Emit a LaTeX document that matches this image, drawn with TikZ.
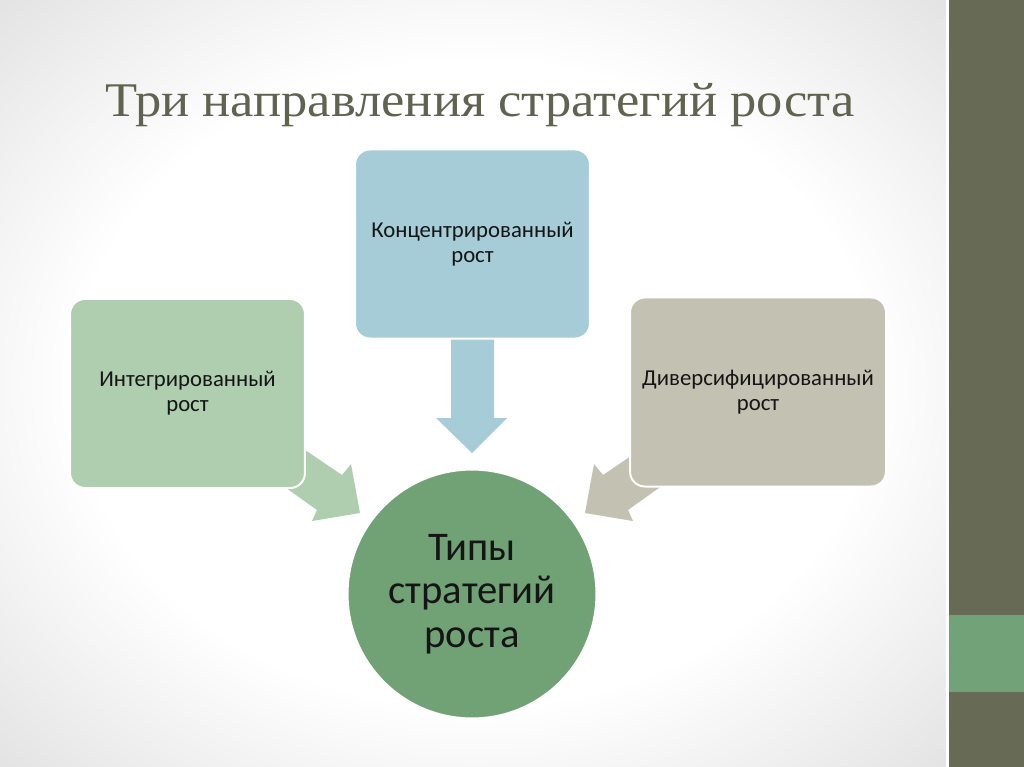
\documentclass[tikz,border=0pt]{standalone}
\usepackage{fontspec}
\setmainfont{Carlito}
\newfontfamily\titlefont{Liberation Serif}
\definecolor{bggray}{HTML}{E2E2E2}
\definecolor{barcol}{HTML}{676A55}
\definecolor{bargreen}{HTML}{72A277}
\definecolor{titlecol}{HTML}{5F6350}
\definecolor{boxgreen}{HTML}{AFCDAF}
\definecolor{boxblue}{HTML}{A6CCD7}
\definecolor{boxgrey}{HTML}{C3C1B2}
\definecolor{circgreen}{HTML}{70A276}
\definecolor{txt}{HTML}{151515}
\pgfdeclareradialshading{slidebg}{\pgfpoint{0bp}{0bp}}{color(0bp)=(white); color(21bp)=(white); color(36bp)=(bggray); color(50bp)=(bggray)}
\tikzset{
  box/.style={rectangle, rounded corners=10.5pt, draw=white, line width=1.4pt,
    minimum height=132.9pt, text width=150pt, inner sep=2pt, align=center, text=txt,
    font=\fontsize{16}{17.5}\selectfont},
  hub/.style={circle, draw=white, line width=1.4pt, fill=circgreen, minimum size=175pt,
    align=center, text=txt, font=\fontsize{28.6}{30.4}\selectfont, inner sep=0pt},
  blockarrow/.style={draw=none}
}
\begin{document}
\begin{tikzpicture}[x=0.703125pt, y=-0.703125pt]
\useasboundingbox (0,0) rectangle (1024,767);
% background
\shade[shading=slidebg] (0,0) rectangle (948,767);
\fill[white] (946,0) rectangle (949,767);
\fill[barcol] (949,0) rectangle (1024,767);
\fill[bargreen] (949,615) rectangle (1024,692);
% title
\node[anchor=base, text=titlecol, font=\titlefont\fontsize{34}{40}\selectfont] (title) at (480,117) {\scalebox{1.086}[1]{Три направления стратегий роста}};
% block arrows
\fill[boxblue, blockarrow] (451,338) -- (494,338) -- (494,418) -- (507,418) -- (472,453) -- (436,418) -- (451,418) -- cycle;
\fill[boxgreen, blockarrow] (283,435) -- (342,475) -- (351,464) -- (360,513) -- (312,521) -- (317,510) -- (265,473) -- cycle;
\fill[boxgrey, blockarrow] (662,435) -- (603,475) -- (594,464) -- (585,513) -- (633,521) -- (628,510) -- (680,473) -- cycle;
% boxes
\node[box, fill=boxgreen, minimum width=165.2pt] (integ) at (187.5,393.5) {Интегрированный\\рост};
\node[box, fill=boxblue, minimum width=165.2pt] (conc) at (472.5,244) {Концентрированный\\рост};
\node[box, fill=boxgrey, minimum width=180pt, text width=170pt] (divers) at (758,392) {Диверсифицированный\\рост};
% hub
\node[hub] (types) at (472,594) {Типы\\стратегий\\роста};
\end{tikzpicture}
\end{document}
